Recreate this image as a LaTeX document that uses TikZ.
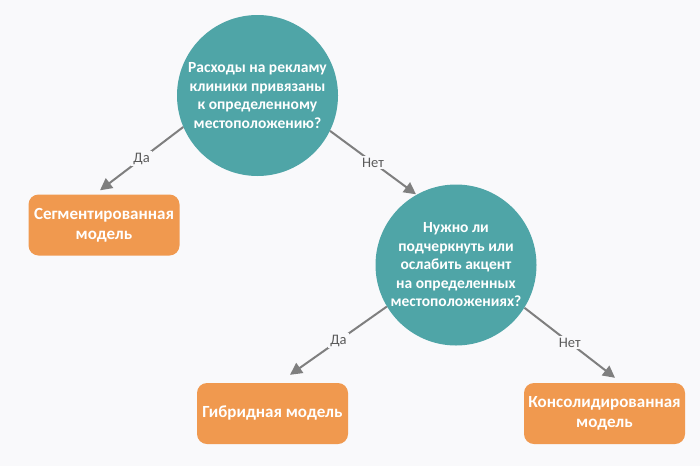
\documentclass[tikz,border=0pt]{standalone}
\usepackage{fontspec}
\setmainfont{Carlito}
\usetikzlibrary{arrows.meta}
\definecolor{bg}{HTML}{F9F9FB}
\definecolor{teal}{HTML}{4FA5A7}
\definecolor{orng}{HTML}{F0994F}
\definecolor{arrowgray}{HTML}{7F7F7F}
\definecolor{labelgray}{HTML}{5A5A5A}
\tikzset{
  question/.style={circle, fill=teal, minimum size=161pt, inner sep=0pt, align=center,
    text=white, font=\bfseries\fontsize{15.5}{18.5}\selectfont},
  outcome/.style={rectangle, rounded corners=10pt, fill=orng, align=center,
    text=white, font=\bfseries\fontsize{17}{20}\selectfont, inner sep=0pt},
  conn/.style={draw=arrowgray, line width=2pt, -{Triangle[length=12pt,width=12pt]}},
  answer/.style={fill=bg, text=labelgray, font=\fontsize{14.5}{16}\selectfont, inner sep=2pt}
}
\begin{document}
\begin{tikzpicture}[x=1pt,y=-1pt]
\fill[bg] (0,0) rectangle (700,466);
\useasboundingbox (0,0) rectangle (700,466);

\node[question] (q1) at (257.5,95.5) {Расходы на рекламу\\клиники привязаны\\к определенному\\местоположению?};
\node[question] (q2) at (456,265) {Нужно ли\\подчеркнуть или\\ослабить акцент\\на определенных\\местоположениях?};

\node[outcome, minimum width=151pt, minimum height=61pt] (o1) at (104,225) {Сегментированная\\модель};
\node[outcome, minimum width=151pt, minimum height=61pt] (o2) at (272.5,413.5) {Гибридная модель};
\node[outcome, minimum width=161pt, minimum height=61pt] (o3) at (604.5,413.5) {Консолидированная\\модель};

\draw[conn] (q1.203.6) -- node[answer] (a1) {Да} ([xshift=-4pt,yshift=4pt]o1.north);
\draw[conn] (q1.334) -- node[answer] (a2) {Нет} ([xshift=-40pt,yshift=-10pt]q2.north);
\draw[conn] (q2.211.8) -- node[answer] (a3) {Да} ([xshift=17.5pt,yshift=8pt]o2.north);
\draw[conn] (q2.328.6) -- node[answer] (a4) {Нет} ([xshift=10.5pt,yshift=5pt]o3.north);
\end{tikzpicture}
\end{document}
